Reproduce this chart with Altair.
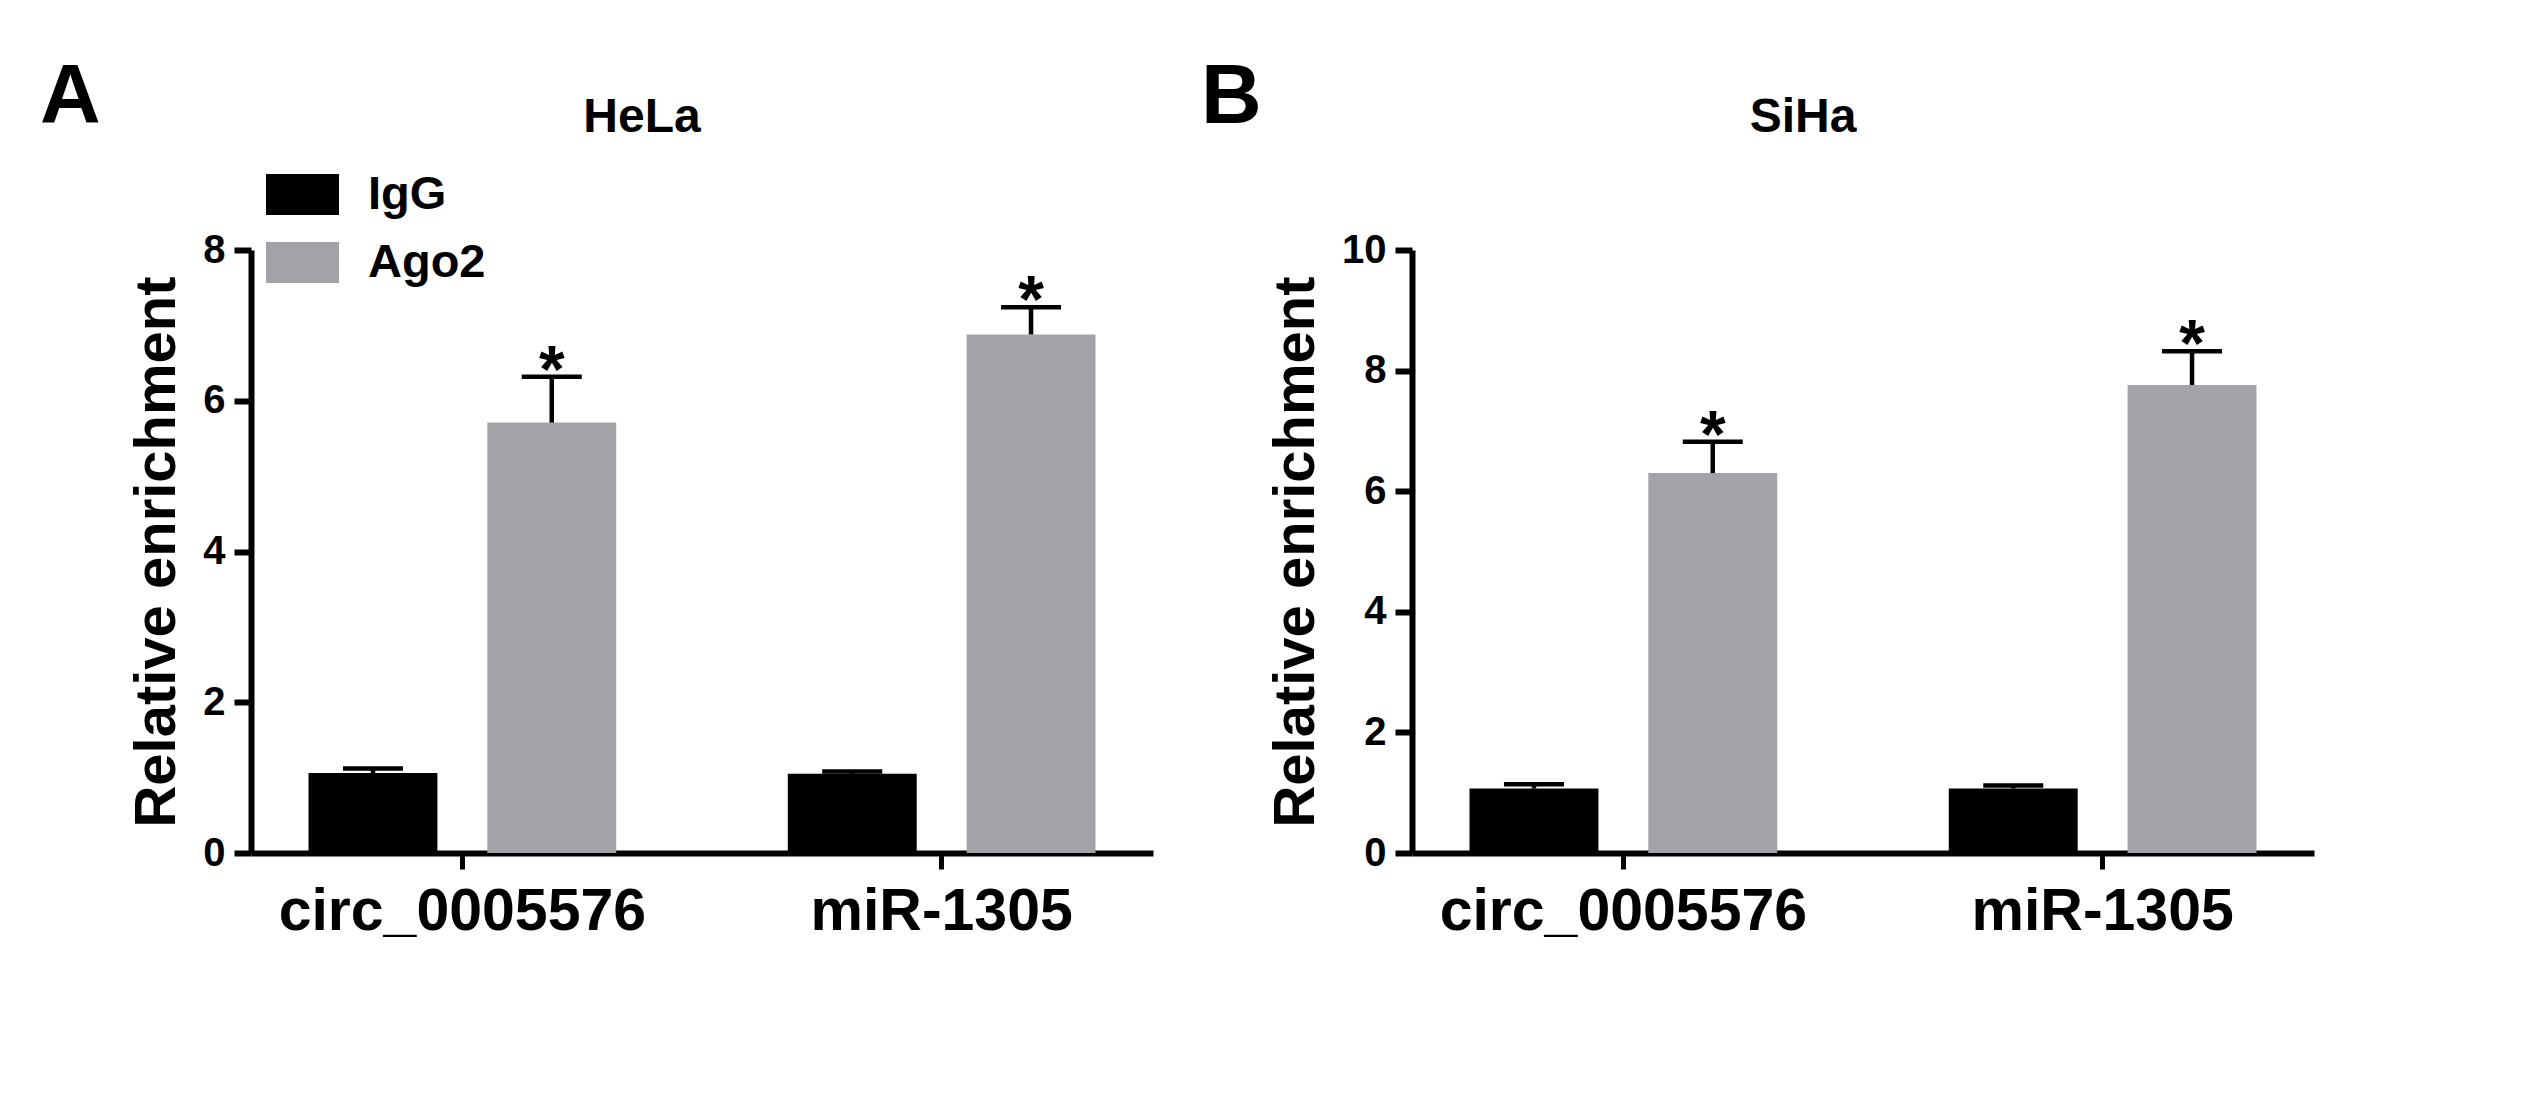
import altair as alt
import pandas as pd

FONT = "Liberation Sans, Arial, Helvetica, sans-serif"

targets = ["circ_0005576", "miR-1305"]
groups = ["IgG", "Ago2"]
colors = ["#000000", "#A3A2A7"]

hela_igg = [1.06, 1.05]
hela_igg_err = [0.06, 0.03]
hela_ago2 = [5.71, 6.88]
hela_ago2_err = [0.61, 0.36]

siha_igg = [1.07, 1.07]
siha_igg_err = [0.07, 0.05]
siha_ago2 = [6.30, 7.76]
siha_ago2_err = [0.52, 0.56]

panel_letters = ["A", "B"]
panel_titles = ["HeLa", "SiHa"]
y_max = [8, 10]
y_ticks = [[0, 2, 4, 6, 8], [0, 2, 4, 6, 8, 10]]
y_title = "Relative enrichment"


def make_df(igg, igg_err, ago, ago_err):
    rows = []
    for i, t in enumerate(targets):
        rows.append({"target": t, "group": "IgG", "value": igg[i],
                     "upper": igg[i] + igg_err[i], "star": ""})
        rows.append({"target": t, "group": "Ago2", "value": ago[i],
                     "upper": ago[i] + ago_err[i], "star": "*"})
    return pd.DataFrame(rows)


def panel(df, letter, title, ymax, ticks, legend_x):
    x = alt.X("target:N", sort=targets,
              scale=alt.Scale(paddingInner=0.358, paddingOuter=0.12),
              axis=alt.Axis(title=None, labelAngle=0, labelFontSize=59,
                            labelFont=FONT, labelFontWeight="bold",
                            labelColor="black", labelPadding=13,
                            labelLimit=2000,
                            tickSize=16, tickWidth=5, tickColor="black",
                            domainWidth=6, domainColor="black"))
    xo = alt.XOffset("group:N", sort=groups,
                     scale=alt.Scale(paddingInner=0.279, paddingOuter=0))
    y = alt.Y("value:Q",
              scale=alt.Scale(domain=[0, ymax], nice=False),
              axis=alt.Axis(title=y_title, values=ticks, format="d",
                            grid=False,
                            labelFontSize=40, labelFont=FONT,
                            labelFontWeight="bold", labelColor="black",
                            labelPadding=9, tickSize=17, tickWidth=6,
                            tickColor="black", domainWidth=6,
                            domainColor="black", titleFontSize=58,
                            titleFont=FONT, titleFontWeight="bold",
                            titleColor="black", titlePadding=16))
    color = alt.Color("group:N", sort=groups,
                      scale=alt.Scale(domain=groups, range=colors),
                      legend=alt.Legend(title=None, orient="none",
                                        legendX=legend_x, legendY=-92,
                                        symbolType="M-1,-0.56H1V0.56H-1Z",
                                        symbolSize=5329, symbolStrokeWidth=0,
                                        symbolOpacity=1,
                                        labelFontSize=47, labelFont=FONT,
                                        labelFontWeight="bold",
                                        labelColor="black", labelOffset=29,
                                        rowPadding=8))
    base = alt.Chart(df)
    bars = base.mark_bar(opacity=1).encode(x=x, xOffset=xo, y=y, color=color)
    err = base.mark_rule(color="black", strokeWidth=4.5, opacity=1).encode(
        x=x, xOffset=xo, y="value:Q", y2="upper:Q")
    caps = base.mark_tick(color="black", thickness=4.5, size=60, opacity=1,
                          orient="horizontal").encode(
        x=x, xOffset=xo, y="upper:Q")
    stars = base.transform_filter(alt.datum.star != "").mark_text(
        font=FONT, fontSize=66, fontWeight="bold", color="black",
        baseline="alphabetic", dy=15).encode(
        x=x, xOffset=xo, y="upper:Q", text="star:N")
    letter_t = alt.Chart(pd.DataFrame({"t": [letter]})).mark_text(
        font=FONT, fontSize=84, fontWeight="bold", color="black",
        align="left", baseline="alphabetic").encode(
        x=alt.value(-211), y=alt.value(-127), text="t:N")
    title_t = alt.Chart(pd.DataFrame({"t": [title]})).mark_text(
        font=FONT, fontSize=48, fontWeight="bold", color="black",
        align="center", baseline="alphabetic").encode(
        x=alt.value(391), y=alt.value(-118), text="t:N")
    return alt.layer(bars, err, caps, stars, letter_t, title_t).properties(
        width=902, height=603)


pA = panel(make_df(hela_igg, hela_igg_err, hela_ago2, hela_ago2_err),
           panel_letters[0], panel_titles[0], y_max[0], y_ticks[0], 15)
pB = panel(make_df(siha_igg, siha_igg_err, siha_ago2, siha_ago2_err),
           panel_letters[1], panel_titles[1], y_max[1], y_ticks[1], 16)

chart = alt.hconcat(pA, pB, spacing=48).properties(
    padding={"left": 32, "top": 48, "right": 10, "bottom": 10},
    background="white"
).configure_view(stroke=None)

chart.save("out.html", embed_options={"renderer": "svg", "actions": False})
